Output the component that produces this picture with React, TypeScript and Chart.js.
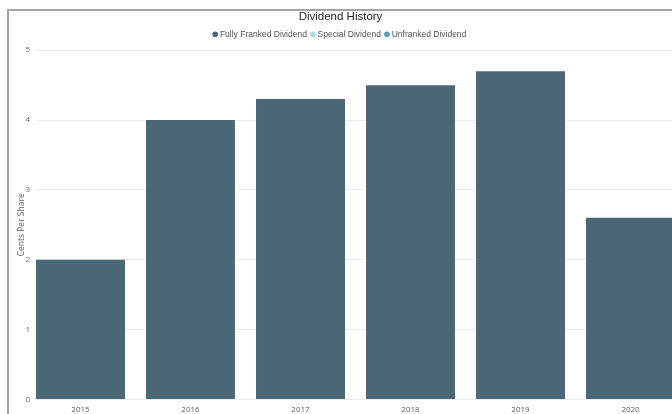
import React, { useEffect, useRef } from "react";
import { Chart, registerables } from "chart.js";

Chart.register(...registerables);

// ---- data ----
const years = [2015, 2016, 2017, 2018, 2019, 2020];
const fullyFranked = [2.0, 4.0, 4.3, 4.5, 4.7, 2.6];
const special = [0, 0, 0, 0, 0, 0];
const unfranked = [0, 0, 0, 0, 0, 0];
const seriesNames = ["Fully Franked Dividend", "Special Dividend", "Unfranked Dividend"];
const chartTitle = "Dividend History";
const yAxisTitle = "Cents Per Share";
const yMin = 0;
const yMax = 5;
// visible x-range (the last bar is cut off at the right edge)
const xMin = 2014.5955;
const xMax = 2020.377;

const colors = ["#4a6876", "#a2dfe0", "#5a9bb5"];

const legendGap = {
  id: "legendGap",
  beforeLayout(chart: any) {
    const lg = chart.legend;
    if (lg && !lg.__gap) {
      const orig = lg.fit.bind(lg);
      lg.fit = function () {
        orig();
        this.height += 1.65;
      };
      lg.__gap = true;
    }
  },
};

const axisFont = { family: "'Open Sans', 'Noto Sans', sans-serif", size: 8 };
const textFont = "'Liberation Sans', Arial, sans-serif";

export default function App() {
  const ref = useRef<HTMLCanvasElement | null>(null);

  useEffect(() => {
    if (!ref.current) return;
    const mk = (vals: number[]) => years.map((yr, i) => ({ x: yr, y: vals[i] }));
    const chart = new Chart(ref.current, {
      type: "bar",
      data: {
        datasets: [
          { label: seriesNames[0], data: mk(fullyFranked), backgroundColor: colors[0], borderWidth: 0 },
          { label: seriesNames[1], data: mk(special), backgroundColor: colors[1], borderWidth: 0 },
          { label: seriesNames[2], data: mk(unfranked), backgroundColor: colors[2], borderWidth: 0 },
        ],
      },
      options: {
        animation: false,
        responsive: false,
        devicePixelRatio: 1,
        layout: { padding: 0 },
        datasets: {
          bar: { barPercentage: 0.809, categoryPercentage: 1 },
        },
        scales: {
          x: {
            type: "linear",
            min: xMin,
            max: xMax,
            bounds: "data",
            offset: false,
            stacked: true,
            grid: { display: false, drawTicks: false },
            border: { display: false },
            ticks: {
              stepSize: 1,
              includeBounds: false,
              autoSkip: false,
              maxRotation: 0,
              padding: 5,
              color: "#605e5c",
              font: axisFont,
              callback: (v: any) => String(v),
            },
            afterBuildTicks: (s: any) => {
              s.ticks = years.map((v) => ({ value: v }));
            },
            afterFit: (s: any) => {
              s.height = 14.5;
            },
          },
          y: {
            min: yMin,
            max: yMax,
            stacked: true,
            grid: { color: "#ededed", drawTicks: false, lineWidth: 1 },
            border: { display: false },
            ticks: { stepSize: 1, padding: 6, color: "#666666", font: axisFont },
            title: {
              display: true,
              text: yAxisTitle,
              color: "#605e5c",
              font: { family: "'Open Sans', 'Noto Sans', sans-serif", size: 8.5 },
              padding: { top: 7, bottom: 0 },
            },
            afterFit: (s: any) => {
              s.width = 27;
            },
          },
        },
        plugins: {
          title: {
            display: true,
            text: chartTitle,
            color: "#252423",
            font: { family: textFont, size: 11.5, weight: "normal", lineHeight: 1 },
            padding: { top: 0, bottom: 2.05 },
          },
          legend: {
            display: true,
            position: "top",
            align: "center",
            labels: {
              usePointStyle: true,
              pointStyle: "circle",
              boxWidth: 1,
              boxHeight: 4,
              padding: 5.5,
              color: "#555555",
              font: { family: textFont, size: 8.5 },
            },
          },
          tooltip: { enabled: false },
        },
      } as any,
      plugins: [legendGap],
    });
    return () => chart.destroy();
  }, []);

  return (
    <div
      style={{
        position: "fixed",
        left: 7,
        top: 9,
        width: 663,
        height: 403,
        borderTop: "2px solid #a3a3a3",
        borderLeft: "2px solid #a3a3a3",
        overflow: "hidden",
        background: "#ffffff",
      }}
    >
      <canvas ref={ref} width={663} height={403} style={{ display: "block" }} />
    </div>
  );
}
